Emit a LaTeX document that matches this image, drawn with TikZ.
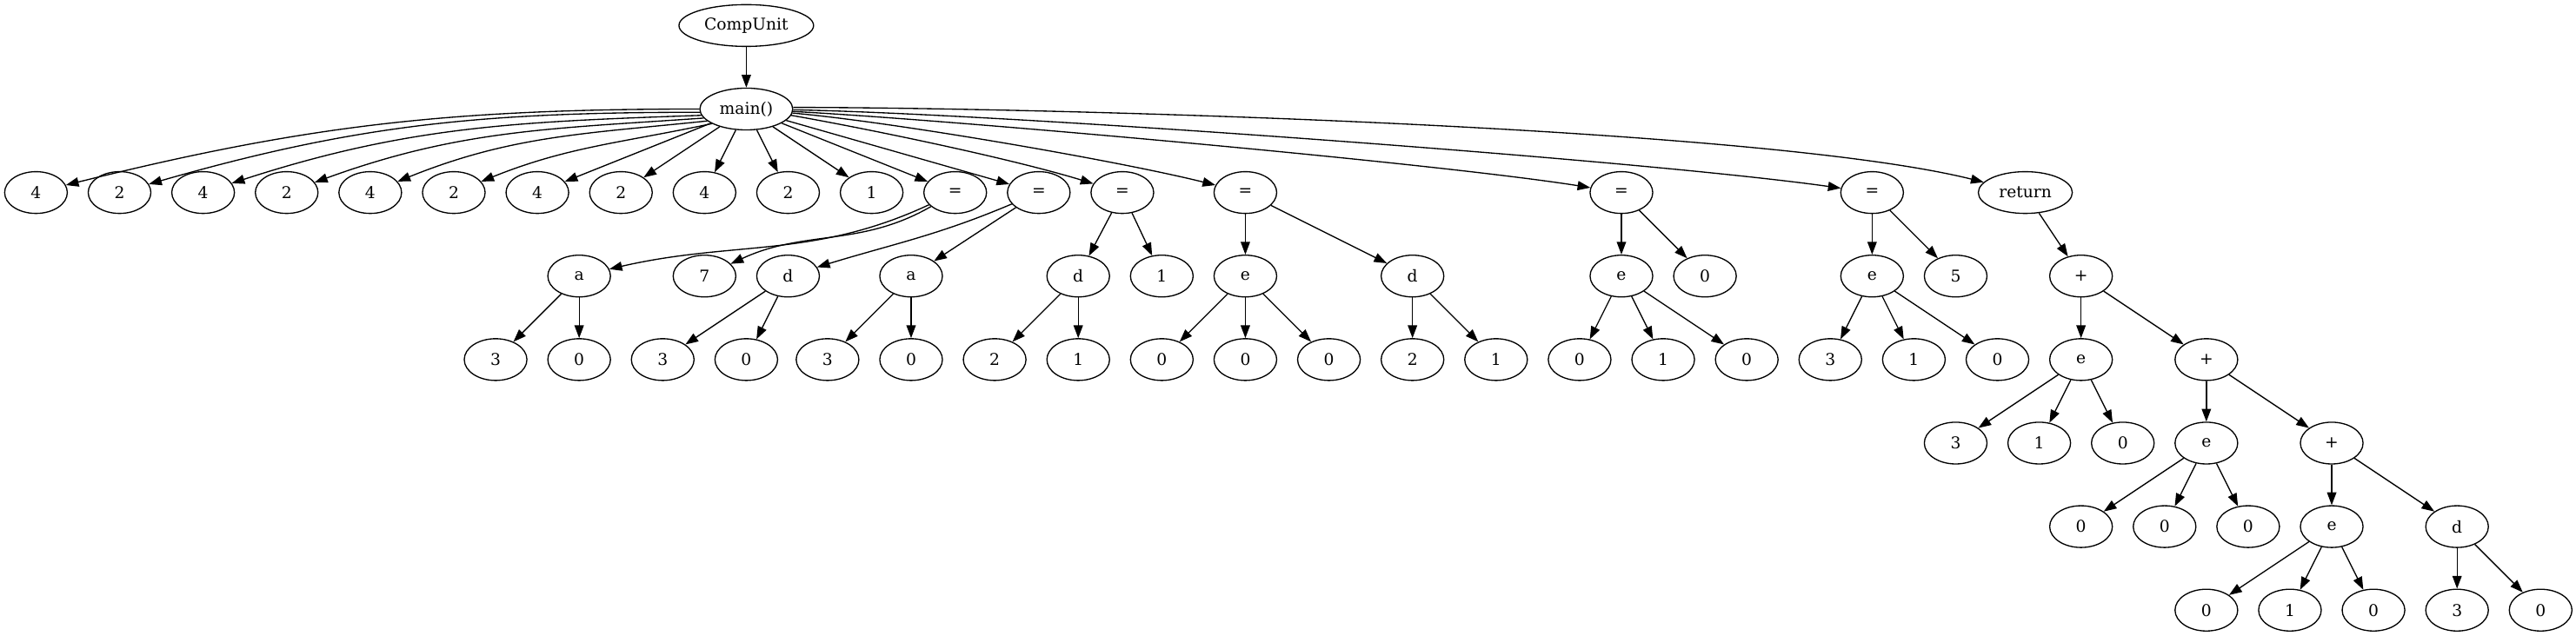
\documentclass[tikz,border=0pt]{standalone}
\usepackage{fontspec}
\setmainfont{DejaVu Serif}
\usetikzlibrary{arrows.meta,shapes.geometric}

\begin{document}
\begin{tikzpicture}[
		x=0.5pt, y=0.5pt,
		tok/.style={ellipse,draw=black,minimum width=27pt,minimum height=18pt,inner sep=0pt,line width=0.5pt,font=\fontsize{7}{8}\selectfont},
		link/.style={>={Triangle[length=5.5pt,width=4pt]},draw=black,line width=0.5pt},
		scale=1
	]
		\useasboundingbox (0,0) rectangle (2219.5,548);
		% top
		\node[tok, minimum width=58pt] (cu) at (643,526) {CompUnit};
		\node[tok, minimum width=40pt] (main) at (643,454) {main()};
		\draw[link, ->] (cu) -- (main);
		% children of main()
		\node[tok] (l0) at (31,382) {4};
		\node[tok] (l1) at (103,382) {2};
		\node[tok] (l2) at (175,382) {4};
		\node[tok] (l3) at (247,382) {2};
		\node[tok] (l4) at (319,382) {4};
		\node[tok] (l5) at (391,382) {2};
		\node[tok] (l6) at (463,382) {4};
		\node[tok] (l7) at (535,382) {2};
		\node[tok] (l8) at (607,382) {4};
		\node[tok] (l9) at (679,382) {2};
		\node[tok] (l10) at (751,382) {1};
		\node[tok] (eqa) at (823,382) {=};
		\node[tok] (eqb) at (895,382) {=};
		\node[tok] (eqc) at (967,382) {=};
		\node[tok] (eqd) at (1073,382) {=};
		\node[tok] (eqe) at (1397,382) {=};
		\node[tok] (eqf) at (1613,382) {=};
		\node[tok, minimum width=40.5pt] (ret) at (1745,382) {return};
		\draw[link, ->] (main.180) to[out=180, in=14] (l0);
		\draw[link, ->] (main.184) to[out=180, in=16] (l1);
		\draw[link, ->] (main.188) to[out=182, in=18] (l2);
		\draw[link, ->] (main.192) to[out=184, in=20] (l3);
		\draw[link, ->] (main.197) to[out=186, in=22] (l4);
		\draw[link, ->] (main.203) to[out=192, in=22] (l5);
		\draw[link, ->] (main) -- (l6);
		\draw[link, ->] (main) -- (l7);
		\draw[link, ->] (main) -- (l8);
		\draw[link, ->] (main) -- (l9);
		\draw[link, ->] (main) -- (l10);
		\draw[link, ->] (main) -- (eqa);
		\draw[link, ->] (main) -- (eqb);
		\draw[link, ->] (main.-8) to[out=-10, in=163, looseness=0.7] (eqc);
		\draw[link, ->] (main.-5) to[out=-5, in=166, looseness=0.6] (eqd);
		\draw[link, ->] (main.-3) to[out=-3, in=171, looseness=0.5] (eqe);
		\draw[link, ->] (main.-1) to[out=-1, in=172, looseness=0.5] (eqf);
		\draw[link, ->] (main.2) to[out=0, in=166, looseness=0.5] (ret);
		% second level
		\node[tok] (a1) at (499,310) {a};
		\node[tok] (seven) at (607,310) {7};
		\node[tok] (d1) at (679,310) {d};
		\node[tok] (a2) at (785,310) {a};
		\node[tok] (d2) at (929,310) {d};
		\node[tok] (one) at (1001,310) {1};
		\node[tok] (e1) at (1073,310) {e};
		\node[tok] (d3) at (1217,310) {d};
		\node[tok] (e2) at (1397,310) {e};
		\node[tok] (zero) at (1469,310) {0};
		\node[tok] (e3) at (1613,310) {e};
		\node[tok] (five) at (1685,310) {5};
		\node[tok] (plus1) at (1793,310) {+};
		\draw[link, ->] (eqa) to[out=205, in=13] (a1);
		\draw[link, ->] (eqa) to[out=210, in=25] (seven);
		\draw[link, ->] (eqb) to[out=203, in=17] (d1);
		\draw[link, ->] (eqb) -- (a2);
		\draw[link, ->] (eqc) -- (d2);
		\draw[link, ->] (eqc) -- (one);
		\draw[link, ->] (eqd) -- (e1);
		\draw[link, ->] (eqd) -- (d3);
		\draw[link, ->] (eqe) -- (e2);
		\draw[link, ->] (eqe) -- (zero);
		\draw[link, ->] (eqf) -- (e3);
		\draw[link, ->] (eqf) -- (five);
		\draw[link, ->] (ret) -- (plus1);
		% third level
		\node[tok] (a1l) at (427,238) {3};
		\node[tok] (a1r) at (499,238) {0};
		\node[tok] (d1l) at (571,238) {3};
		\node[tok] (d1r) at (643,238) {0};
		\node[tok] (a2l) at (713,238) {3};
		\node[tok] (a2r) at (785,238) {0};
		\node[tok] (d2l) at (857,238) {2};
		\node[tok] (d2r) at (929,238) {1};
		\node[tok] (e1l) at (1001,238) {0};
		\node[tok] (e1m) at (1073,238) {0};
		\node[tok] (e1r) at (1145,238) {0};
		\node[tok] (d3l) at (1217,238) {2};
		\node[tok] (d3r) at (1289,238) {1};
		\node[tok] (e2l) at (1361,238) {0};
		\node[tok] (e2m) at (1433,238) {1};
		\node[tok] (e2r) at (1505,238) {0};
		\node[tok] (e3l) at (1577,238) {3};
		\node[tok] (e3m) at (1649,238) {1};
		\node[tok] (e3r) at (1721,238) {0};
		\node[tok] (e4) at (1793,238) {e};
		\node[tok] (plus2) at (1901,238) {+};
		\draw[link, ->] (a1) -- (a1l);
		\draw[link, ->] (a1) -- (a1r);
		\draw[link, ->] (d1) -- (d1l);
		\draw[link, ->] (d1) -- (d1r);
		\draw[link, ->] (a2) -- (a2l);
		\draw[link, ->] (a2) -- (a2r);
		\draw[link, ->] (d2) -- (d2l);
		\draw[link, ->] (d2) -- (d2r);
		\draw[link, ->] (e1) -- (e1l);
		\draw[link, ->] (e1) -- (e1m);
		\draw[link, ->] (e1) -- (e1r);
		\draw[link, ->] (d3) -- (d3l);
		\draw[link, ->] (d3) -- (d3r);
		\draw[link, ->] (e2) -- (e2l);
		\draw[link, ->] (e2) -- (e2m);
		\draw[link, ->] (e2) -- (e2r);
		\draw[link, ->] (e3) -- (e3l);
		\draw[link, ->] (e3) -- (e3m);
		\draw[link, ->] (e3) -- (e3r);
		\draw[link, ->] (plus1) -- (e4);
		\draw[link, ->] (plus1) -- (plus2);
		% fourth level
		\node[tok] (e4l) at (1685,166) {3};
		\node[tok] (e4m) at (1757,166) {1};
		\node[tok] (e4r) at (1829,166) {0};
		\node[tok] (e5) at (1901,166) {e};
		\node[tok] (plus3) at (2009,166) {+};
		\draw[link, ->] (e4) -- (e4l);
		\draw[link, ->] (e4) -- (e4m);
		\draw[link, ->] (e4) -- (e4r);
		\draw[link, ->] (plus2) -- (e5);
		\draw[link, ->] (plus2) -- (plus3);
		% fifth level
		\node[tok] (e5l) at (1793,94) {0};
		\node[tok] (e5m) at (1865,94) {0};
		\node[tok] (e5r) at (1937,94) {0};
		\node[tok] (e6) at (2009,94) {e};
		\node[tok] (d4) at (2117,94) {d};
		\draw[link, ->] (e5) -- (e5l);
		\draw[link, ->] (e5) -- (e5m);
		\draw[link, ->] (e5) -- (e5r);
		\draw[link, ->] (plus3) -- (e6);
		\draw[link, ->] (plus3) -- (d4);
		% bottom
		\node[tok] (e6l) at (1901,22) {0};
		\node[tok] (e6m) at (1973,22) {1};
		\node[tok] (e6r) at (2045,22) {0};
		\node[tok] (d4l) at (2117,22) {3};
		\node[tok] (d4r) at (2189,22) {0};
		\draw[link, ->] (e6) -- (e6l);
		\draw[link, ->] (e6) -- (e6m);
		\draw[link, ->] (e6) -- (e6r);
		\draw[link, ->] (d4) -- (d4l);
		\draw[link, ->] (d4) -- (d4r);
	\end{tikzpicture}
\end{document}
